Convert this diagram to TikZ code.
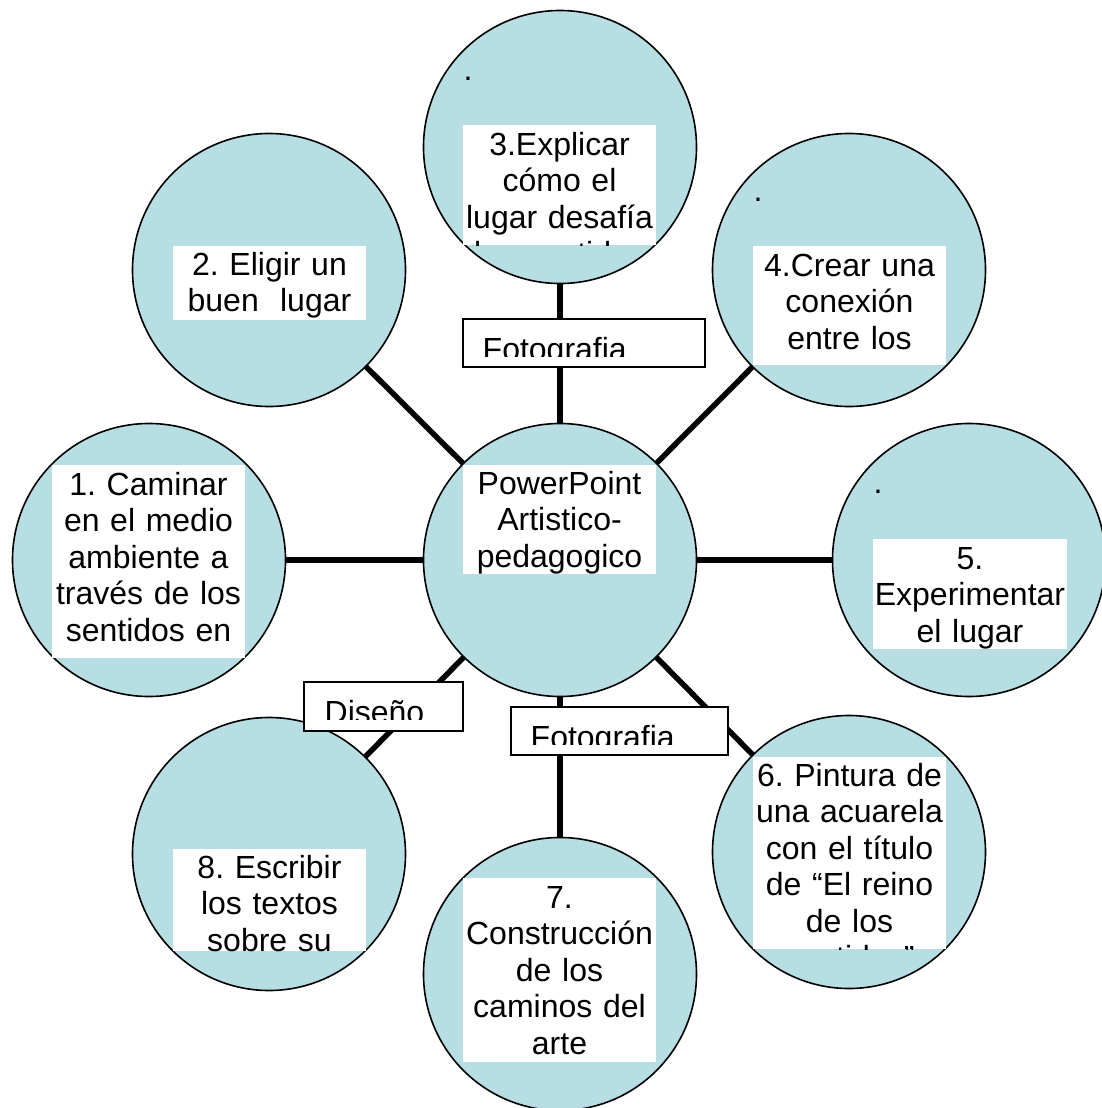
\documentclass[tikz,border=0pt]{standalone}
\usepackage{fontspec}
\setmainfont{Liberation Sans}
\frenchspacing
\definecolor{bubblefill}{RGB}{183,222,226}

\begin{document}
\begin{tikzpicture}[x=1pt, y=-1pt,
    bubble/.style={circle, draw, line width=1.6pt, fill=bubblefill, minimum size=273pt, inner sep=0pt, outer sep=0pt},
    link/.style={line width=5.5pt},
    tagbox/.style={draw, line width=1.4pt, fill=white},
    txt/.style={anchor=base, inner sep=0pt, text width=200pt, align=center, font=\fontsize{32}{36.5}\selectfont},
    tagtxt/.style={anchor=base west, inner sep=0pt, font=\fontsize{32}{36.5}\selectfont}]
  \useasboundingbox (0,0) rectangle (1102,1108);

  % circles
  \node[bubble] (hub) at (560,560) {};
  \node[bubble] (c1) at (149,560) {};
  \node[bubble] (c2) at (269,270) {};
  \node[bubble] (c3) at (560,147) {};
  \node[bubble] (c4) at (849,270) {};
  \node[bubble] (c5) at (969,560) {};
  \node[bubble] (c6) at (849,852) {};
  \node[bubble] (c7) at (560,974) {};
  \node[bubble] (c8) at (269,854) {};

  % spokes
  \draw[link] (hub) -- (c1);
  \draw[link] (hub) -- (c2);
  \draw[link] (hub) -- (c3);
  \draw[link] (hub) -- (c4);
  \draw[link] (hub) -- (c5);
  \draw[link] (hub) -- (c6);
  \draw[link] (hub) -- (c7);
  \draw[link] (hub) -- (c8);

  % tags on the spokes
  \draw[tagbox] (463,319) rectangle (705,367);
  \begin{scope}
    \clip (463,319) rectangle (705,356);
    \node[tagtxt] (tagfoto1) at (482.5,360) {Fotografia};
  \end{scope}
  \draw[tagbox] (304,682) rectangle (463,731);
  \begin{scope}
    \clip (304,682) rectangle (463,719);
    \node[tagtxt] (tagdis) at (324.5,723) {Diseño};
  \end{scope}
  \draw[tagbox] (511,707) rectangle (728,755);
  \begin{scope}
    \clip (511,707) rectangle (728,744);
    \node[tagtxt] (tagfoto2) at (530.5,748) {Fotografia};
  \end{scope}

  % text boxes
  \fill[white] (463,465) rectangle (656,574);
  \node[txt] (t0) at (559.5,494) {PowerPoint\\Artistico-\\pedagogico};

  \fill[white] (52,465) rectangle (245,658);
  \node[txt] (t1) at (148.5,495) {1. Caminar\\en el medio\\ambiente a\\través de los\\sentidos en};

  \fill[white] (173,246) rectangle (366,320);
  \node[txt] (t2) at (269.5,275) {2. Eligir un\\buen~~lugar};

  \fill[white] (463,125) rectangle (656,245);
  \begin{scope}
    \clip (463,125) rectangle (656,245);
    \node[txt] (t3) at (559.5,155) {3.Explicar\\cómo el\\lugar desafía\\los sentidos};
  \end{scope}

  \fill[white] (753,246) rectangle (946,365);
  \node[txt] (t4) at (849.5,276) {4.Crear una\\conexión\\entre los};

  \fill[white] (873,539) rectangle (1067,649);
  \node[txt] (t5) at (970,569) {5.\\Experimentar\\el lugar};

  \fill[white] (753,757) rectangle (946,949);
  \begin{scope}
    \clip (753,757) rectangle (946,949);
    \node[txt] (t6) at (849.5,786) {6. Pintura de\\una acuarela\\con el título\\de “El reino\\de los\\sentidos”};
  \end{scope}

  \fill[white] (463,878) rectangle (656,1062);
  \node[txt] (t7) at (559.5,908) {7.\\Construcción\\de los\\caminos del\\arte};

  \fill[white] (173,849) rectangle (366,951);
  \begin{scope}
    \clip (173,849) rectangle (366,951);
    \node[txt] (t8) at (269.5,878) {8. Escribir\\los textos\\sobre su};
  \end{scope}

  % stray dots
  \node[tagtxt] (dot3) at (463.5,81) {.};
  \node[tagtxt] (dot4) at (753.5,201) {.};
  \node[tagtxt] (dot5) at (873.5,493) {.};
\end{tikzpicture}
\end{document}
